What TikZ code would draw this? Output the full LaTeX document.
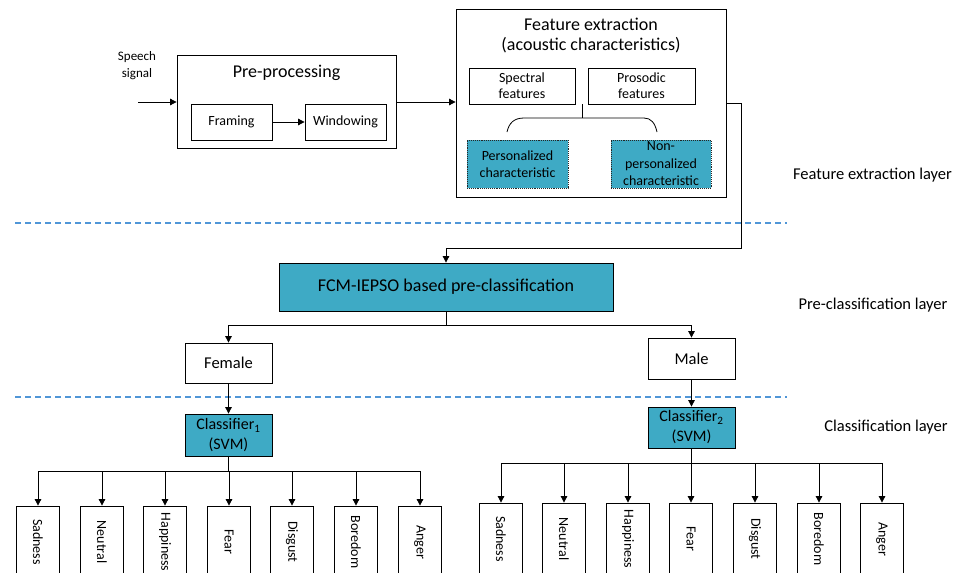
\documentclass[tikz,border=0pt]{standalone}
\usepackage{fontspec}
\setmainfont{Carlito}
\usetikzlibrary{arrows.meta}
\definecolor{boxfill}{RGB}{62,170,197}
\definecolor{layerdash}{RGB}{80,150,215}
\newcommand{\fsz}[2]{\fontsize{#1}{#2}\selectfont}
\tikzset{
  box/.style={draw=black, line width=0.8pt, inner sep=0pt, align=center},
  tealbox/.style={box, fill=boxfill},
  dotbox/.style={draw=black!85, densely dotted, line width=0.9pt, fill=boxfill,
                 inner sep=0pt, align=center},
  arr/.style={line width=0.8pt, -{Triangle[length=6.5pt,width=6.5pt]}},
  link/.style={line width=0.8pt},
  layerline/.style={draw=layerdash, line width=1.3pt, dash pattern=on 6pt off 4pt},
  layertext/.style={font=\fsz{16.5}{19}},
  smallbox/.style={box, minimum width=81pt, minimum height=36pt, font=\fsz{14}{16}},
  emo/.style={box, rotate=-90, minimum width=72pt, minimum height=43pt, font=\fsz{14}{16}},
}
\begin{document}
\begin{tikzpicture}[x=1pt,y=-1pt]
\useasboundingbox (0,0) rectangle (959,573);
\clip (0,0) rectangle (959,573);

% ---------- pre-processing ----------
\node[align=center, font=\fsz{13}{16.5}] (speech) at (137,65.5) {Speech\\signal};
\coordinate (sigin) at (138,102);
\node[box, minimum width=219pt, minimum height=93pt] (pre) at (286.5,102) {};
\node[font=\fsz{18}{20}] (pretitle) at (286.5,73) {Pre-processing};
\node[smallbox] (framing) at (231.5,122) {Framing};
\node[smallbox] (windowing) at (345.5,122) {Windowing};
\draw[arr] (sigin) -- (pre.west);
\draw[arr] (framing) -- (windowing);

% ---------- feature extraction ----------
\node[box, minimum width=270pt, minimum height=188pt] (feat) at (591,103) {};
\node[align=center, font=\fsz{18}{20}] (feattitle) at (591,36)
  {Feature extraction\\(acoustic characteristics)};
\node[box, minimum width=106pt, minimum height=36pt, font=\fsz{14}{16}] (spec) at (522,86) {Spectral\\features};
\node[box, minimum width=107pt, minimum height=36pt, font=\fsz{14}{16}] (pros) at (641.5,86) {Prosodic\\features};
\node[dotbox, minimum width=101pt, minimum height=48pt, font=\fsz{14}{16.7}] (perso) at (517.5,164)
  {Personalized\\characteristic};
\node[dotbox, minimum width=100pt, minimum height=48pt, font=\fsz{14}{17.5}] (nonperso) at (661,164)
  {Non-\\personalized\\characteristic};
\draw[arr] (pre.east) -- (pre.east -| feat.west);

% brace joining the feature groups
\coordinate (brtop) at (582,104);
\coordinate (brmid) at (582,118);
\draw[link] (brtop) -- (brmid);
\draw[link] (507,132) .. controls (509,123) and (514,118) .. (524,118)
  -- (644,118) .. controls (651,118) and (655,123) .. (657,132);

% ---------- layer separators and labels ----------
\coordinate (sepAl) at (15,223);
\coordinate (sepAr) at (787,223);
\coordinate (sepBl) at (15,397);
\coordinate (sepBr) at (787,397);
\draw[layerline] (sepAl) -- (sepAr);
\draw[layerline] (sepBl) -- (sepBr);
\node[layertext] (lay1) at (872.5,175) {Feature extraction layer};
\node[layertext] (lay2) at (873,305.5) {Pre-classification layer};
\node[layertext] (lay3) at (886,427) {Classification layer};

% ---------- pre-classification ----------
\node[tealbox, minimum width=334pt, minimum height=48pt, font=\fsz{18}{20}] (fcm) at (446,287)
  {FCM-IEPSO based pre-classification};
\coordinate (bend) at (741,248);
\draw[arr] (feat.east) -| (bend) -| (fcm.north);

\node[box, minimum width=87pt, minimum height=40pt, font=\fsz{16.5}{18}] (female) at (228.5,363) {Female};
\node[box, minimum width=87pt, minimum height=41pt, font=\fsz{16.5}{18}] (male) at (691.5,358.5) {Male};
\coordinate (split) at (446,325);
\draw[link] (fcm.south) -- (split);
\draw[arr] (split) -| (female.north);
\draw[arr] (split) -| (male.north);

% ---------- classification ----------
\node[tealbox, minimum width=87pt, minimum height=42pt, font=\fsz{16}{20}] (cls1) at (228.5,435)
  {Classifier\textsubscript{1}\\(SVM)};
\node[tealbox, minimum width=87pt, minimum height=41pt, font=\fsz{16}{20}] (cls2) at (691.5,427.5)
  {Classifier\textsubscript{2}\\(SVM)};
\draw[arr] (female) -- (cls1);
\draw[arr] (male) -- (cls2);

\coordinate (busL) at (228.5,471);
\coordinate (busR) at (691.5,463);
\draw[link] (cls1.south) -- (busL);
\draw[link] (cls2.south) -- (busR);

\foreach \x/\name/\lab in {38/L1/Sadness, 102/L2/Neutral, 165/L3/Happiness, 229/L4/Fear,
                            292/L5/Disgust, 356/L6/Boredom, 420/L7/Anger} {
  \node[emo] (\name) at (\x,542) {\lab};
  \draw[arr] (busL) -| (\name.west);
}
\foreach \x/\name/\lab in {501/R1/Sadness, 564/R2/Neutral, 628/R3/Happiness, 691/R4/Fear,
                            755/R5/Disgust, 819/R6/Boredom, 882/R7/Anger} {
  \node[emo] (\name) at (\x,539) {\lab};
  \draw[arr] (busR) -| (\name.west);
}
\end{tikzpicture}
\end{document}
